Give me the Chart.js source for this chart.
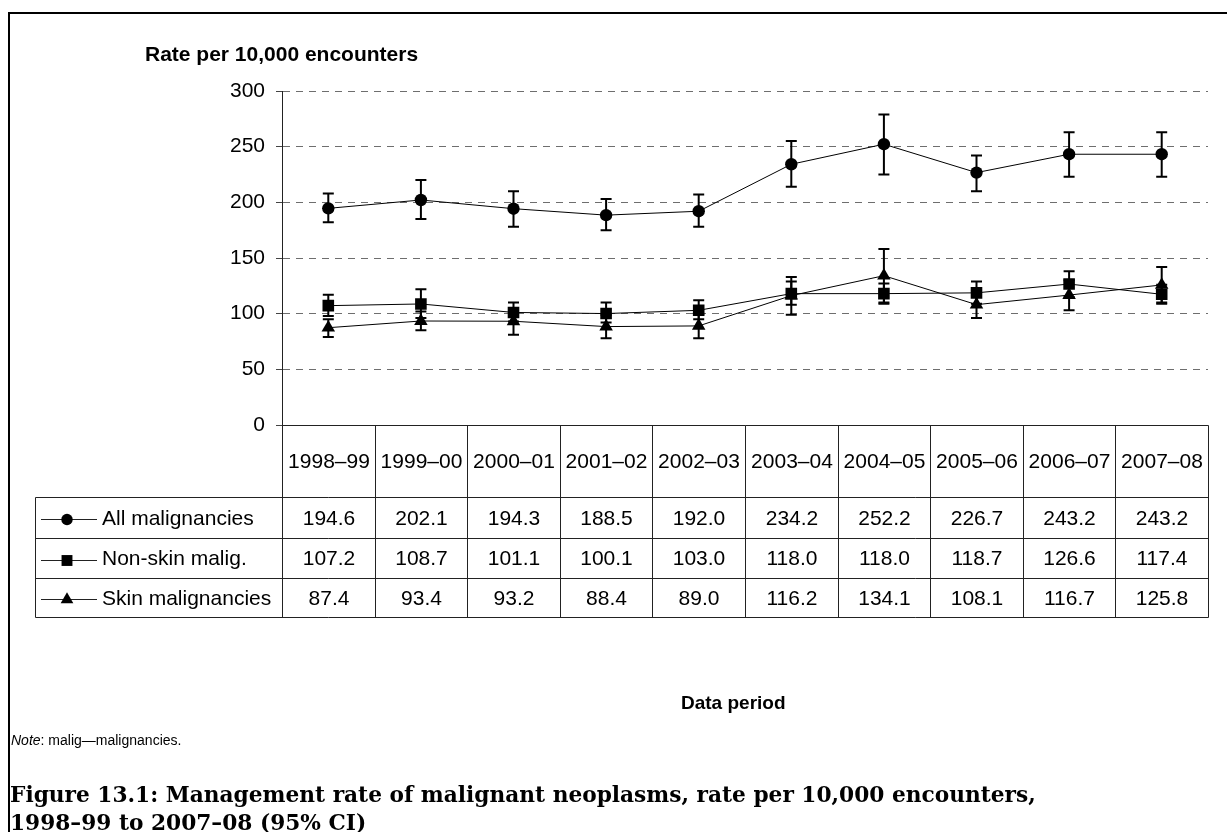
<!DOCTYPE html>
<html>
<head>
<meta charset="utf-8">
<script src="https://cdn.jsdelivr.net/npm/chart.js@4/dist/chart.umd.min.js"></script>
<style>
  html, body { margin: 0; padding: 0; background: #fff; }
  #wrap { position: relative; width: 1227px; height: 832px; overflow: hidden; }
  #frame { position: absolute; left: 8px; top: 12px; right: -10px; bottom: -10px;
           border-left: 2px solid #000; border-top: 2px solid #000; }
  canvas { position: absolute; left: 0; top: 0; }
  .t { position: absolute; white-space: nowrap; color: #000; line-height: 1; }
  #ytitle { left: 145px; top: 42px; font: bold 21px "Liberation Sans", Arial, sans-serif; }
  #xtitle { left: 681px; top: 692px; font: bold 19px "Liberation Sans", Arial, sans-serif; }
  #note { left: 11px; top: 732px; font: 14px "Liberation Sans", Arial, sans-serif; }
  #cap { left: 10px; top: 781px; font: bold 21.7px "DejaVu Serif", serif; line-height: 28px; }
</style>
</head>
<body>
<div id="wrap">
  <div id="frame"></div>
  <canvas id="c" width="1227" height="832"></canvas>
  <div class="t" id="ytitle">Rate per 10,000 encounters</div>
  <div class="t" id="xtitle">Data period</div>
  <div class="t" id="note"><i>Note</i>: malig—malignancies.</div>
  <div class="t" id="cap">Figure 13.1: Management rate of malignant neoplasms, rate per 10,000 encounters,<br>1998–99 to 2007–08 (95% CI)</div>
</div>
<script>
// Data periods
const categories = ['1998–99', '1999–00', '2000–01', '2001–02', '2002–03',
                    '2003–04', '2004–05', '2005–06', '2006–07', '2007–08'];

// Rates per 10,000 encounters
const allMalig     = [194.6, 202.1, 194.3, 188.5, 192.0, 234.2, 252.2, 226.7, 243.2, 243.2];
const nonSkinMalig = [107.2, 108.7, 101.1, 100.1, 103.0, 118.0, 118.0, 118.7, 126.6, 117.4];
const skinMalig    = [87.4, 93.4, 93.2, 88.4, 89.0, 116.2, 134.1, 108.1, 116.7, 125.8];

// 95% confidence limits
const allLow      = [182, 185, 178, 175, 178, 214, 225, 210, 223, 223];
const allHigh     = [208, 220, 210, 203, 207, 255, 279, 242, 263, 263];
const nonSkinLow  = [98, 96, 93, 92, 95, 108, 109, 109, 115, 109];
const nonSkinHigh = [117, 122, 110, 110, 112, 129, 127, 129, 138, 126];
const skinLow     = [79, 85, 81, 78, 78, 99, 110, 96, 103, 110];
const skinHigh    = [95, 102, 105, 99, 100, 133, 158, 120, 130, 142];

// Series names shown in the data table
const seriesNames = ['All malignancies', 'Non-skin malig.', 'Skin malignancies'];

const ci = [
  { low: allLow, high: allHigh },
  { low: nonSkinLow, high: nonSkinHigh },
  { low: skinLow, high: skinHigh }
];

const FONT = '"Liberation Sans", Arial, sans-serif';

function drawMarker(ctx, style, r, x, y) {
  ctx.beginPath();
  if (style === 'circle') {
    ctx.arc(x, y, r, 0, Math.PI * 2);
  } else if (style === 'rect') {
    const s = r * Math.SQRT1_2;
    ctx.rect(x - s, y - s, 2 * s, 2 * s);
  } else {
    ctx.moveTo(x, y - r);
    ctx.lineTo(x + r * Math.sin(Math.PI * 2 / 3), y + r * 0.5);
    ctx.lineTo(x - r * Math.sin(Math.PI * 2 / 3), y + r * 0.5);
    ctx.closePath();
  }
  ctx.fill();
}

// Confidence interval whiskers behind the markers
const errorBars = {
  id: 'errorBars',
  beforeDatasetsDraw(chart) {
    const { ctx, scales: { x, y } } = chart;
    ctx.save();
    ctx.strokeStyle = '#000';
    ctx.lineWidth = 2;
    ci.forEach(c => {
      c.low.forEach((lo, i) => {
        const px = x.getPixelForValue(i);
        const yl = y.getPixelForValue(lo);
        const yh = y.getPixelForValue(c.high[i]);
        ctx.beginPath();
        ctx.moveTo(px, yl); ctx.lineTo(px, yh);
        ctx.moveTo(px - 5.5, yl); ctx.lineTo(px + 5.5, yl);
        ctx.moveTo(px - 5.5, yh); ctx.lineTo(px + 5.5, yh);
        ctx.stroke();
      });
    });
    ctx.restore();
  }
};

// Data table under the plot: period header, legend keys and values
const dataTable = {
  id: 'dataTable',
  afterDraw(chart) {
    const { ctx, scales: { x, y } } = chart;
    const n = categories.length;
    const top = Math.round(y.bottom) + 0.5;
    const rows = [497.5, 538.5, 578.5, 617.5];
    const tableLeft = 35.5;
    const bounds = [];
    for (let i = 0; i <= n; i++) {
      let b;
      if (i === 0) b = x.left;
      else if (i === n) b = x.right;
      else b = (x.getPixelForValue(i - 1) + x.getPixelForValue(i)) / 2;
      bounds.push(Math.round(b) + 0.5);
    }
    ctx.save();
    ctx.strokeStyle = '#222';
    ctx.lineWidth = 1;
    ctx.beginPath();
    ctx.moveTo(bounds[0], top); ctx.lineTo(bounds[n], top);
    rows.forEach(ry => { ctx.moveTo(tableLeft, ry); ctx.lineTo(bounds[n], ry); });
    bounds.forEach(bx => { ctx.moveTo(bx, top); ctx.lineTo(bx, rows[rows.length - 1]); });
    ctx.moveTo(tableLeft, rows[0]); ctx.lineTo(tableLeft, rows[rows.length - 1]);
    ctx.stroke();

    ctx.fillStyle = '#000';
    ctx.font = '21px ' + FONT;
    ctx.textAlign = 'center';
    ctx.textBaseline = 'middle';
    categories.forEach((c, i) => {
      ctx.fillText(c, (bounds[i] + bounds[i + 1]) / 2, (top + rows[0]) / 2 + 1);
    });

    chart.data.datasets.forEach((ds, k) => {
      const cy = (rows[k] + rows[k + 1]) / 2 + 1;
      ds.data.forEach((v, i) => {
        ctx.fillText(v.toFixed(1), (bounds[i] + bounds[i + 1]) / 2, cy);
      });
      // legend key
      ctx.beginPath();
      ctx.moveTo(41, Math.round(cy) + 0.5); ctx.lineTo(97, Math.round(cy) + 0.5);
      ctx.stroke();
      drawMarker(ctx, ds.pointStyle, ds.pointRadius - 0.5, 67, Math.round(cy) + 0.5);
    });
    ctx.textAlign = 'left';
    seriesNames.forEach((s, k) => {
      ctx.fillText(s, 102, (rows[k] + rows[k + 1]) / 2 + 1);
    });
    ctx.restore();
  }
};

const common = {
  borderColor: '#000',
  borderWidth: 1,
  backgroundColor: '#000',
  pointBackgroundColor: '#000',
  pointBorderColor: '#000',
  pointBorderWidth: 0,
  tension: 0,
  fill: false
};

new Chart(document.getElementById('c'), {
  type: 'line',
  data: {
    labels: categories,
    datasets: [
      Object.assign({ label: seriesNames[0], data: allMalig, pointStyle: 'circle', pointRadius: 6.2 }, common),
      Object.assign({ label: seriesNames[1], data: nonSkinMalig, pointStyle: 'rect', pointRadius: 8.2 }, common),
      Object.assign({ label: seriesNames[2], data: skinMalig, pointStyle: 'triangle', pointRadius: 7.8 }, common)
    ]
  },
  options: {
    responsive: false,
    animation: false,
    devicePixelRatio: 1,
    layout: { padding: { left: 0, top: 91, right: 19, bottom: 407 } },
    plugins: { legend: { display: false }, tooltip: { enabled: false } },
    scales: {
      x: { type: 'category', offset: true, display: false },
      y: {
        min: 0, max: 300,
        ticks: { stepSize: 50, color: '#000', padding: 11, font: { family: 'Liberation Sans', size: 21 } },
        grid: { color: '#6e6e6e', lineWidth: 1, tickLength: 6, tickColor: '#444' },
        border: { display: true, color: '#222', width: 1, dash: [7, 6] },
        afterFit(scale) { scale.width = 282; }
      }
    }
  },
  plugins: [errorBars, dataTable]
});
</script>
</body>
</html>
